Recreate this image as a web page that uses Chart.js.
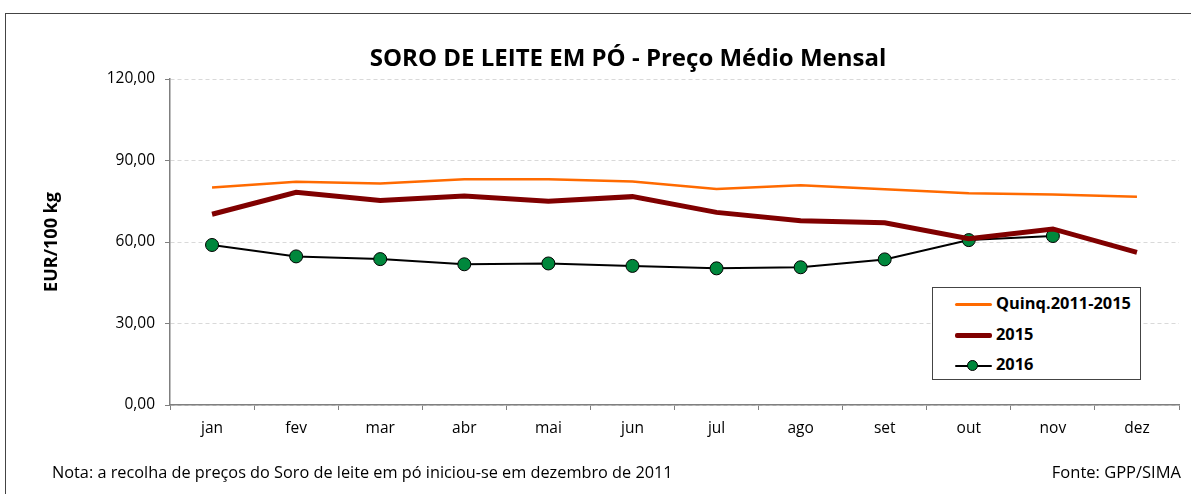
<!DOCTYPE html>
<html>
<head>
<meta charset="utf-8">
<script src="https://cdn.jsdelivr.net/npm/chart.js@4"></script>
<style>
  body { margin:0; background:#fff; font-family:"Open Sans", sans-serif; }
  #wrap { position:relative; width:1191px; height:494px; overflow:hidden; }
  #frame { position:absolute; left:5px; top:13px; width:1200px; height:500px; border:1px solid #444; box-sizing:border-box; }
  #chart { position:absolute; left:0; top:0; }
  .ttl { position:absolute; left:0; width:1256px; top:41px; text-align:center; font-weight:bold; font-size:24px; color:#000; line-height:32px; }
  .note { position:absolute; left:52px; top:461px; font-size:16.3px; color:#000; line-height:22px; }
  .src { position:absolute; right:10px; top:461px; font-size:16.5px; color:#000; line-height:22px; }
  #legend { position:absolute; left:932px; top:287px; width:209px; height:93px; border:1px solid #444; box-sizing:border-box; background:#fff; }
  .lg { position:absolute; left:22px; font-weight:bold; font-size:16.4px; height:22px; line-height:22px; }
  .lg i { display:inline-block; vertical-align:middle; width:37px; position:relative; margin-right:4px; }
</style>
</head>
<body>
<div id="wrap">
  <div id="frame"></div>
  <canvas id="chart" width="1191" height="494"></canvas>
  <div class="ttl">SORO DE LEITE EM PÓ - Preço Médio Mensal</div>
  <div id="legend"></div>
  <div class="note">Nota: a recolha de preços do Soro de leite em pó iniciou-se em dezembro de 2011</div>
  <div class="src">Fonte: GPP/SIMA</div>
</div>
<script>
// months and series
const months = ['jan','fev','mar','abr','mai','jun','jul','ago','set','out','nov','dez'];
const quinq = [80.1, 82.2, 81.5, 83.1, 83.1, 82.3, 79.5, 80.9, 79.4, 77.9, 77.5, 76.7];
const y2015 = [70.2, 78.3, 75.3, 76.9, 75.0, 76.7, 70.9, 67.8, 67.1, 61.2, 64.8, 56.2];
const y2016 = [58.9, 54.7, 53.7, 51.8, 52.1, 51.2, 50.3, 50.7, 53.6, 60.7, 62.2, null];
const yTicks = [0, 30, 60, 90, 120];

const seriesNames = ['Quinq.2011-2015', '2015', '2016'];
const FONT = '"Open Sans", sans-serif';

const chart = new Chart(document.getElementById('chart'), {
  type: 'line',
  data: {
    labels: months,
    datasets: [
      { label: seriesNames[0], data: quinq, borderColor: '#ff6a00', borderWidth: 2.5, pointRadius: 0, tension: 0 },
      { label: seriesNames[1], data: y2015, borderColor: '#800000', borderWidth: 5, pointRadius: 0, tension: 0 },
      { label: seriesNames[2], data: y2016, borderColor: '#000', borderWidth: 2, pointRadius: 6.5,
        pointBackgroundColor: '#00873c', pointBorderColor: '#000', pointBorderWidth: 1, tension: 0 }
    ]
  },
  options: {
    responsive: false,
    animation: false,
    layout: { padding: { left: 37, top: 79, right: 12, bottom: 0 } },
    plugins: { legend: { display: false }, tooltip: { enabled: false } },
    scales: {
      x: {
        offset: true,
        grid: { offset: true, drawOnChartArea: false, tickLength: 5, color: '#7f7f7f' },
        border: { color: '#7f7f7f', width: 1.5 },
        ticks: { color: '#000', font: { family: FONT, size: 15.5 }, padding: 9 },
        afterFit: s => { s.height = 89; }
      },
      y: {
        min: 0, max: 120,
        afterBuildTicks: s => { s.ticks = yTicks.map(v => ({ value: v })); },
        grid: { color: '#d9d9d9', tickColor: '#7f7f7f', tickLength: 5 },
        border: { color: '#7f7f7f', width: 1.5, dash: [4, 3] },
        ticks: { color: '#000', font: { family: FONT, size: 15.5 }, padding: 10,
          callback: v => v.toFixed(2).replace('.', ',') },
        title: { display: true, text: 'EUR/100 kg', color: '#000', font: { family: FONT, size: 18, weight: 'bold' }, padding: { top: 4, bottom: 4 } },
        afterFit: s => { s.width = 133; }
      }
    }
  }
});

// legend in a box like the original
const lg = document.getElementById('legend');
chart.data.datasets.forEach((ds, i) => {
  const row = document.createElement('div');
  row.className = 'lg';
  row.style.top = (4 + i * 30.5) + 'px';
  let sample = `<i style="height:${ds.borderWidth}px;background:${ds.borderColor};border-radius:2px;">`;
  if (ds.pointRadius) sample += `<span style="position:absolute;left:12px;top:${-6 + ds.borderWidth/2}px;width:11px;height:11px;border-radius:50%;background:${ds.pointBackgroundColor};border:1px solid #000;box-sizing:border-box;"></span>`;
  sample += '</i>';
  row.innerHTML = sample + ds.label;
  lg.appendChild(row);
});
</script>
</body>
</html>
